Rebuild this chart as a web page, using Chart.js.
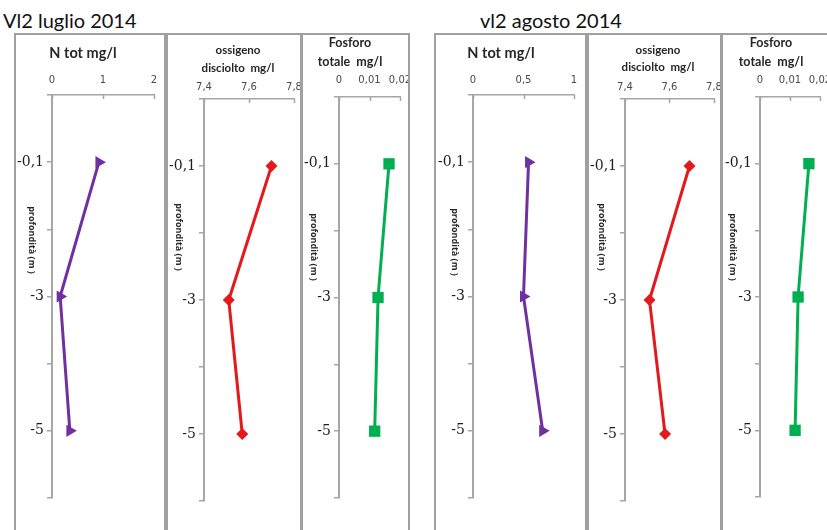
<!DOCTYPE html>
<html>
<head>
<meta charset="utf-8">
<script src="https://cdn.jsdelivr.net/npm/chart.js@4.4.1/dist/chart.umd.min.js"></script>
<style>
  body { margin: 0; width: 827px; height: 530px; overflow: hidden; background: #fff; position: relative; }
  .head { position: absolute; top: 8px; font: 20px Lato, sans-serif; color: #111; white-space: nowrap; }
  .panel { position: absolute; top: 33px; height: 520px; box-sizing: border-box; border: 2px solid #a0a0a0; background: #fff; }
  .panel canvas { position: absolute; left: 0; top: 0; }
</style>
</head>
<body>
<div class="head" style="left:3px">Vl2 luglio 2014</div>
<div class="head" style="left:480px">vl2 agosto 2014</div>

<script>
// depth categories (equally spaced, Excel-style category axis)
const depthLabels = ['', '-0,1', '', '-3', '', '-5', ''];
const depths = ['-0,1', '-3', '-5'];

// x axis ticks
const nTotTicksLuglio = [0, 1, 2];
const nTotTicksAgosto = [0, 0.5, 1];
const ossigenoTicks = [7.4, 7.6, 7.8];
const fosforoTicks = [0, 0.01, 0.02];

// measurements, luglio 2014
const nTotLuglio = [0.92, 0.16, 0.35];
const ossigenoLuglio = [7.70, 7.51, 7.57];
const fosforoLuglio = [0.0164, 0.0128, 0.0117];

// measurements, agosto 2014
const nTotAgosto = [0.55, 0.50, 0.69];
const ossigenoAgosto = [7.69, 7.51, 7.58];
const fosforoAgosto = [0.0163, 0.0127, 0.0117];

const AXIS_GREY = '#a6a6a6';
const SERIES = {
  n: { color: '#7030A0', pointStyle: 'triangle', rotation: 90, radius: 7 },
  o: { color: '#E3191C', pointStyle: 'rectRot', rotation: 0, radius: 6 },
  p: { color: '#00B050', pointStyle: 'rect', rotation: 0, radius: 8 },
};

const fmt = v => String(v).replace('.', ',');

// box = [left, width] of the bordered chart object, everything else in page px
const PANELS = [
  { box: [14, 152], axisX: 52, axisRight: 154, axisTop: 95, axisBottom: 498, tickPad: 9,
    title: ['N tot mg/l'], titleX: 83, titleY: [53], titleSize: 14.5, depthAt: [32, 240],
    ticks: nTotTicksLuglio, values: nTotLuglio, kind: 'n' },
  { box: [166, 136], axisX: 204, axisRight: 295, axisTop: 99, axisBottom: 501, tickPad: 6,
    title: ['ossigeno', 'disciolto  mg/l'], titleX: 238, titleY: [50, 68], titleSize: 11.5, depthAt: [179, 237],
    ticks: ossigenoTicks, values: ossigenoLuglio, kind: 'o' },
  { box: [301, 109], axisX: 339, axisRight: 400, axisTop: 97, axisBottom: 498, tickPad: 11,
    title: ['Fosforo', 'totale  mg/l'], titleX: 350, titleY: [43, 62], titleSize: 12.5, depthAt: [314, 247],
    ticks: fosforoTicks, values: fosforoLuglio, kind: 'p' },
  { box: [434, 153], axisX: 473, axisRight: 574, axisTop: 95, axisBottom: 498, tickPad: 9,
    title: ['N tot mg/l'], titleX: 501, titleY: [53], titleSize: 14.5, depthAt: [455, 242],
    ticks: nTotTicksAgosto, values: nTotAgosto, kind: 'n' },
  { box: [587, 135], axisX: 625, axisRight: 715, axisTop: 99, axisBottom: 501, tickPad: 6,
    title: ['ossigeno', 'disciolto  mg/l'], titleX: 658, titleY: [50, 67], titleSize: 11.5, depthAt: [602, 237],
    ticks: ossigenoTicks, values: ossigenoAgosto, kind: 'o' },
  { box: [721, 200], axisX: 760, axisRight: 820, axisTop: 97, axisBottom: 497, tickPad: 11,
    title: ['Fosforo', 'totale  mg/l'], titleX: 771, titleY: [43, 62], titleSize: 12.5, depthAt: [733, 247],
    ticks: fosforoTicks, values: fosforoAgosto, kind: 'p' },
];

// panel title, rotated depth label and inward x ticks
const panelDecor = {
  id: 'panelDecor',
  beforeDatasetsDraw(chart, args, o) {
    const ctx = chart.ctx;
    const xs = chart.scales.x;
    const top = chart.chartArea.top;
    ctx.save();
    ctx.strokeStyle = AXIS_GREY;
    ctx.lineWidth = 1.5;
    xs.ticks.forEach(t => {
      const px = Math.round(xs.getPixelForValue(t.value)) + 0.5;
      ctx.beginPath();
      ctx.moveTo(px, top);
      ctx.lineTo(px, top + 4);
      ctx.stroke();
    });
    ctx.restore();
  },
  afterDraw(chart, args, o) {
    const ctx = chart.ctx;
    ctx.save();
    ctx.fillStyle = '#262626';
    ctx.textAlign = 'center';
    ctx.textBaseline = 'middle';
    ctx.font = `bold ${o.titleSize}px Lato, sans-serif`;
    o.title.forEach((line, i) => ctx.fillText(line, o.titleX - o.ox, o.titleY[i] - o.oy));

    ctx.translate(o.depthAt[0] - o.ox, o.depthAt[1] - o.oy);
    ctx.rotate(Math.PI / 2);
    ctx.font = 'bold 9px "Open Sans", sans-serif';
    ctx.fillText('profondità (m )', 0, 0);
    ctx.restore();
  }
};

PANELS.forEach(p => {
  const div = document.createElement('div');
  div.className = 'panel';
  div.style.left = p.box[0] + 'px';
  div.style.width = p.box[1] + 'px';
  document.body.appendChild(div);

  const ox = p.box[0] + 2, oy = 35;
  const w = p.box[1] - 4, h = 516;
  const canvas = document.createElement('canvas');
  canvas.width = w;
  canvas.height = h;
  canvas.style.width = w + 'px';
  canvas.style.height = h + 'px';
  div.appendChild(canvas);

  const yWidth = 36, xHeight = 24;
  const s = SERIES[p.kind];

  new Chart(canvas, {
    type: 'line',
    data: {
      datasets: [{
        data: depths.map((d, i) => ({ x: p.values[i], y: d })),
        borderColor: s.color,
        backgroundColor: s.color,
        borderWidth: 3,
        pointStyle: s.pointStyle,
        rotation: s.rotation,
        pointRadius: s.radius,
        pointBorderWidth: 0,
        tension: 0,
        fill: false,
      }]
    },
    options: {
      responsive: false,
      animation: false,
      events: [],
      layout: {
        padding: {
          left: p.axisX - ox - yWidth,
          right: ox + w - p.axisRight,
          top: p.axisTop - oy - xHeight,
          bottom: oy + h - p.axisBottom,
        }
      },
      plugins: {
        legend: { display: false },
        tooltip: { enabled: false },
        panelDecor: { ox, oy, title: p.title, titleX: p.titleX, titleY: p.titleY, titleSize: p.titleSize, depthAt: p.depthAt },
      },
      scales: {
        x: {
          type: 'linear',
          position: 'top',
          min: p.ticks[0],
          max: p.ticks[p.ticks.length - 1],
          afterBuildTicks: sc => { sc.ticks = p.ticks.map(v => ({ value: v })); },
          grid: { drawOnChartArea: false, drawTicks: false },
          border: { display: true, color: AXIS_GREY, width: 1.5 },
          ticks: { padding: p.tickPad, color: '#4a4a4a', font: { family: 'DejaVu Sans', size: 10 }, callback: v => fmt(v) },
          afterFit: sc => { sc.height = xHeight; sc.paddingLeft = 0; sc.paddingRight = 0; },
        },
        y: {
          type: 'category',
          labels: depthLabels,
          offset: false,
          grid: { drawOnChartArea: false, drawTicks: true, tickLength: 5, color: AXIS_GREY, lineWidth: 1.5 },
          border: { display: true, color: AXIS_GREY, width: 2 },
          ticks: { autoSkip: false, padding: 3, color: '#1e1e1e', font: { family: 'DejaVu Serif', size: 14 } },
          afterFit: sc => { sc.width = yWidth; sc.paddingTop = 0; sc.paddingBottom = 0; },
        }
      }
    },
    plugins: [panelDecor]
  });
});
</script>
</body>
</html>
